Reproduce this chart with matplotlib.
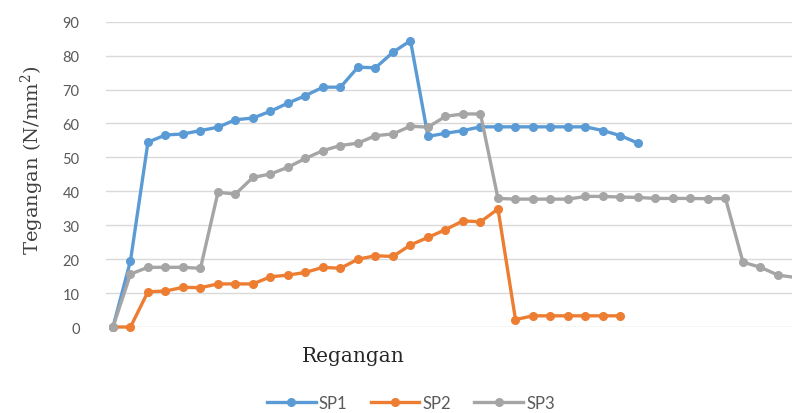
import numpy as np
import matplotlib.pyplot as plt

# stress readings per load step
sp1 = [0, 19.5, 54.5, 56.6, 56.9, 57.9, 58.9, 61.1, 61.6, 63.6, 66.0, 68.2, 70.7, 70.7,
       76.6, 76.4, 81.0, 84.4, 56.2, 57.1, 57.9, 59.0, 59.0, 59.0, 59.0, 59.0, 59.0, 59.0,
       57.9, 56.4, 54.2]
sp2 = [0, 0, 10.4, 10.6, 11.7, 11.6, 12.7, 12.7, 12.7, 14.8, 15.3, 16.1, 17.6, 17.3,
       20.0, 21.0, 20.8, 24.2, 26.4, 28.7, 31.3, 31.0, 34.8, 2.2, 3.3, 3.3, 3.3, 3.3,
       3.3, 3.3]
sp3 = [0, 15.6, 17.6, 17.6, 17.6, 17.3, 39.7, 39.2, 44.1, 45.1, 47.1, 49.7, 52.0, 53.5,
       54.2, 56.4, 56.9, 59.2, 58.9, 62.1, 62.8, 62.8, 37.9, 37.7, 37.7, 37.7, 37.7, 38.5,
       38.5, 38.3, 38.2, 37.9, 37.9, 37.9, 37.8, 37.9, 19.1, 17.6, 15.3, 14.6]

series = [("SP1", sp1, "#5B9BD5"), ("SP2", sp2, "#ED7D31"), ("SP3", sp3, "#A5A5A5")]

fig = plt.figure(figsize=(7.92, 4.14), dpi=100)
ax = fig.add_axes([0.1338, 0.2077, 0.8662, 0.7375])

for name, vals, col in series:
    ax.plot(np.arange(len(vals)), vals, color=col, lw=2.4, marker="o", ms=5.5,
            label=name, clip_on=False, solid_joinstyle="round")

ax.set_xlim(-0.4, 38.8)
ax.set_ylim(0, 90)
ax.set_yticks(range(0, 91, 10))
ax.set_xticks([])
ax.grid(axis="y", color="#D9D9D9", lw=1)
ax.set_axisbelow(True)
for s in ax.spines.values():
    s.set_visible(False)
ax.tick_params(axis="y", length=0, pad=19, labelsize=10.5, labelcolor="#595959")
for t in ax.get_yticklabels():
    t.set_family("Lato")

fig.text(32 / 792, 1 - 160 / 414, r"Tegangan (N/mm$^2$)", rotation=90, ha="center",
         va="center", fontsize=14, family="DejaVu Serif", color="#404040",
         math_fontfamily="dejavuserif")
fig.text(353 / 792, 1 - 357 / 414, "Regangan", ha="center", va="center",
         fontsize=14.5, family="DejaVu Serif", color="#262626")

leg = fig.legend(loc="center", bbox_to_anchor=(411 / 792, 1 - 404 / 414), ncol=3,
                 frameon=False, handlelength=2.9, columnspacing=1.4,
                 handletextpad=0.2, labelcolor="#595959", prop={"family": "Lato", "size": 12})

fig.savefig("out.png", dpi=100)
